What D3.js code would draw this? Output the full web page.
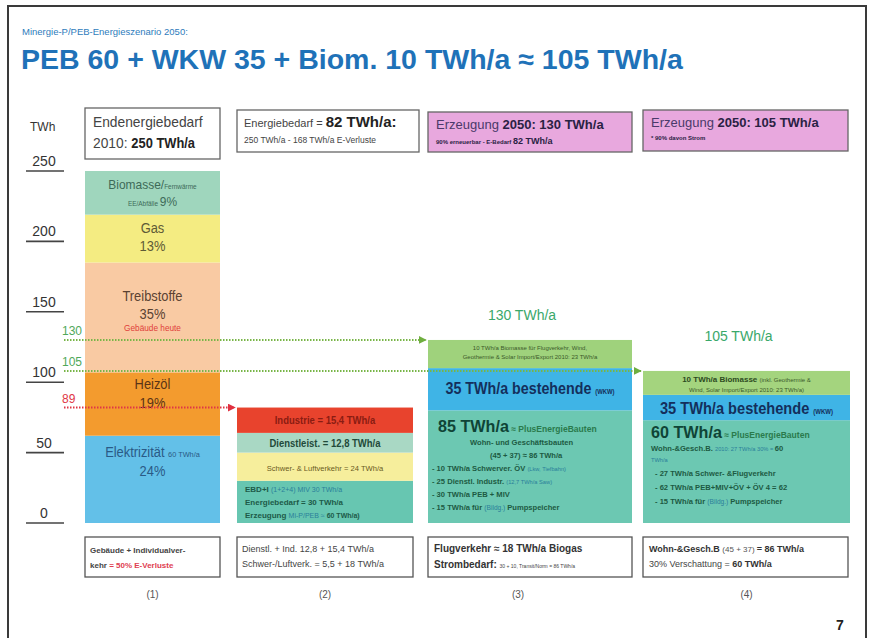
<!DOCTYPE html>
<html>
<head>
<meta charset="utf-8">
<script src="https://cdn.jsdelivr.net/npm/d3@7"></script>
<style>
  body { margin: 0; background: #fff; }
  svg { display: block; font-family: "Liberation Sans Narrow", "Arial Narrow", "Liberation Sans", Arial, sans-serif; }
</style>
</head>
<body>
<script>
// ---- data ----
const columns = ["(1)", "(2)", "(3)", "(4)"];
const yTicks = [0, 50, 100, 150, 200, 250];

// stacks, bottom to top
const col1Names = ["Elektrizität", "Heizöl", "Treibstoffe", "Gas", "Biomasse"];
const col1Values = [62, 45, 78, 34, 31];
const col1Pct = ["24%", "19%", "35%", "13%", "9%"];

const col2Names = ["EBD", "Schwer- & Luftverkehr", "Dienstleist.", "Industrie"];
const col2Values = [30, 20, 14, 18];

const col3Names = ["PlusEnergieBauten", "bestehende WKW", "Biomasse"];
const col3Values = [80, 30, 20];

const col4Names = ["PlusEnergieBauten", "bestehende WKW", "Biomasse"];
const col4Values = [73, 18, 17];

const totalLabels = ["", "", "130 TWh/a", "105 TWh/a"];
const refLabels = ["130", "105", "89"];
const refTargets = [2, 3, 1]; // column index the dotted line points at

// ---- layout ----
const W = 871, H = 638;
const colX = [[85, 220], [237, 413], [428, 632], [643, 850]];
const y = d3.scaleLinear().domain([0, 250]).range([523, 171]);

const col1Colors = ["#63c0e8", "#f39b2e", "#f9caa3", "#f4ec82", "#9fd6bd"];
const col2Colors = ["#67c6b1", "#f6ee9c", "#a9d8c4", "#e8432d"];
const col3Colors = ["#6cc8b2", "#3fb4e6", "#9fd27c"];
const col4Colors = ["#6cc8b2", "#3fb4e6", "#a4d47e"];

const svg = d3.select("body").append("svg")
    .attr("width", W)
    .attr("height", H);

svg.append("rect").attr("x", 0).attr("y", 0).attr("width", W).attr("height", H).attr("fill", "#fff");
// slide frame
svg.append("path")
    .attr("d", "M8,640 V6 H866 V640")
    .attr("fill", "none").attr("stroke", "#3a3a3a").attr("stroke-width", 2);

// titles
svg.append("text").attr("x", 22).attr("y", 35)
    .attr("font-size", 9.5).attr("fill", "#2e7cbc")
    .text("Minergie-P/PEB-Energieszenario 2050:");
svg.append("text").attr("x", 21).attr("y", 69)
    .attr("font-family", "'Liberation Sans', Arial, sans-serif")
    .attr("font-size", 28.5).attr("font-weight", "bold").attr("fill", "#1f72b8")
    .text("PEB 60 + WKW 35 + Biom. 10 TWh/a \u2248 105 TWh/a");

// helper: multi-part text lines, squeezed horizontally by sx around x
function lines(g, x, y0, anchor, rows, sx) {
    sx = sx || 1;
    const t = g.append("g")
        .attr("transform", "translate(" + x + ",0) scale(" + sx + ",1) translate(" + (-x) + ",0)")
        .append("text").attr("text-anchor", anchor);
    rows.forEach(function (row) {
        row.parts.forEach(function (p, i) {
            const s = t.append("tspan")
                .attr("font-size", p.s || 10)
                .attr("font-weight", p.b ? "bold" : "normal")
                .attr("fill", p.c || "#333")
                .text(p.t);
            if (i === 0) s.attr("x", row.x !== undefined ? x + (row.x - x) / sx : x).attr("y", y0 + row.dy);
        });
    });
    return t;
}

// y axis
svg.append("text").attr("x", 30).attr("y", 131).attr("font-size", 12).attr("fill", "#333").text("TWh");
const ax = svg.append("g").attr("class", "axis");
ax.selectAll("line").data(yTicks).enter().append("line")
    .attr("x1", 26).attr("x2", 64)
    .attr("y1", function (d) { return y(d); }).attr("y2", function (d) { return y(d); })
    .attr("stroke", "#444").attr("stroke-width", 1.6);
ax.selectAll("text").data(yTicks).enter().append("text")
    .attr("x", 44).attr("y", function (d) { return y(d) - 5; })
    .attr("text-anchor", "middle").attr("font-size", 14).attr("fill", "#333")
    .text(function (d) { return d; });

// stacked columns
function stack(values) {
    let acc = 0;
    return values.map(function (v) { const s = { y0: acc, y1: acc + v, v: v }; acc += v; return s; });
}
function drawColumn(ci, values, colors) {
    const g = svg.append("g");
    const seg = stack(values);
    g.selectAll("rect").data(seg).enter().append("rect")
        .attr("x", colX[ci][0])
        .attr("width", colX[ci][1] - colX[ci][0])
        .attr("y", function (d) { return y(d.y1); })
        .attr("height", function (d) { return y(d.y0) - y(d.y1); })
        .attr("fill", function (d, i) { return colors[i]; });
    return seg;
}
const s1 = drawColumn(0, col1Values, col1Colors);
const s2 = drawColumn(1, col2Values, col2Colors);
const s3 = drawColumn(2, col3Values, col3Colors);
const s4 = drawColumn(3, col4Values, col4Colors);
const totals = [col1Values, col2Values, col3Values, col4Values].map(function (v) { return d3.sum(v); });
const cx = colX.map(function (c) { return (c[0] + c[1]) / 2; });

// column 1 labels
const c1 = svg.append("g");
lines(c1, cx[0], y(s1[4].y1), "middle", [
    { dy: 18, parts: [{ t: "Biomasse/", s: 13, c: "#3d6a58" }, { t: "Fernwärme", s: 7, c: "#3d6a58" }] },
    { dy: 35, parts: [{ t: "EE/Abfälle ", s: 7, c: "#3d6a58" }, { t: "9%", s: 13, c: "#3d6a58" }] }], 0.92);
lines(c1, cx[0], y(s1[3].y1), "middle", [
    { dy: 18, parts: [{ t: "Gas", s: 14, c: "#5e5a36" }] },
    { dy: 36, parts: [{ t: col1Pct[3], s: 14, c: "#5e5a36" }] }], 0.92);
lines(c1, cx[0], y(s1[2].y1), "middle", [
    { dy: 38, parts: [{ t: "Treibstoffe", s: 14, c: "#5a4232" }] },
    { dy: 56, parts: [{ t: col1Pct[2], s: 14, c: "#5a4232" }] },
    { dy: 68, parts: [{ t: "Gebäude heute", s: 9, c: "#e0403a" }] }], 0.92);
lines(c1, cx[0], y(s1[1].y1), "middle", [
    { dy: 17, parts: [{ t: "Heizöl", s: 14, c: "#5a3416" }] },
    { dy: 36, parts: [{ t: col1Pct[1], s: 14, c: "#5a3416" }] }], 0.92);
lines(c1, cx[0], y(s1[0].y1), "middle", [
    { dy: 21, parts: [{ t: "Elektrizität ", s: 14, c: "#2a5a86" }, { t: " 60 TWh/a", s: 8, c: "#2a5a86" }] },
    { dy: 40, parts: [{ t: col1Pct[0], s: 14, c: "#2a5a86" }] }], 0.92);

// column 2 labels
const c2 = svg.append("g");
lines(c2, cx[1], y(s2[3].y1), "middle", [
    { dy: 16, parts: [{ t: "Industrie = 15,4 TWh/a", s: 10, b: true, c: "#8a1c12" }] }], 0.95);
lines(c2, cx[1], y(s2[2].y1), "middle", [
    { dy: 14, parts: [{ t: "Dienstleist. = 12,8 TWh/a", s: 10, b: true, c: "#1f4a3a" }] }], 0.95);
lines(c2, cx[1], y(s2[1].y1), "middle", [
    { dy: 18, parts: [{ t: "Schwer- & Luftverkehr = 24 TWh/a", s: 8, c: "#6a5a22" }] }], 0.95);
lines(c2, colX[1][0] + 8, y(s2[0].y1), "start", [
    { dy: 11, parts: [{ t: "EBD+I ", s: 8, b: true, c: "#1d5a48" }, { t: "(1+2+4) MIV 30 TWh/a", s: 7, c: "#2b7f9a" }] },
    { dy: 24, parts: [{ t: "Energiebedarf  =  30 TWh/a", s: 8, b: true, c: "#1d5a48" }] },
    { dy: 37, parts: [{ t: "Erzeugung ", s: 8, b: true, c: "#1d5a48" }, { t: "Mi-P/PEB \u2248 ", s: 7, c: "#2b7f9a" }, { t: "60 TWh/a)", s: 7, b: true, c: "#1d5a48" }] }]);

// column 3 labels
const c3 = svg.append("g");
lines(c3, cx[2], y(s3[2].y1), "middle", [
    { dy: 10, parts: [{ t: "10 TWh/a Biomasse für Flugverkehr, Wind,", s: 6, c: "#3b5a2a" }] },
    { dy: 19, parts: [{ t: "Geothermie & Solar Import/Export 2010: 23 TWh/a", s: 6, c: "#3b5a2a" }] }]);
lines(c3, cx[2], y(s3[1].y1), "middle", [
    { dy: 26, parts: [{ t: "35 TWh/a bestehende ", s: 17, b: true, c: "#142f5c" }, { t: "(WKW)", s: 7, b: true, c: "#142f5c" }] }], 0.84);
lines(c3, colX[2][0] + 10, y(s3[0].y1), "start", [
    { dy: 22, parts: [{ t: "85 TWh/a", s: 17, b: true, c: "#0f4436" }, { t: "  \u2248  PlusEnergieBauten", s: 9, b: true, c: "#2a7a4c" }] },
    { dy: 35, x: colX[2][0] + 42, parts: [{ t: "Wohn- und Geschäftsbauten", s: 8, b: true, c: "#1d5a42" }] },
    { dy: 48, x: colX[2][0] + 62, parts: [{ t: "(45 + 37) \u2248 86 TWh/a", s: 8, b: true, c: "#1d5a42" }] },
    { dy: 61, x: colX[2][0] + 4, parts: [{ t: "- 10 TWh/a Schwerver. ÖV ", s: 8, b: true, c: "#1d5a42" }, { t: "(Lkw, Tiefbahn)", s: 6, c: "#2b7f9a" }] },
    { dy: 74, x: colX[2][0] + 4, parts: [{ t: "- 25 Dienstl. Industr. ", s: 8, b: true, c: "#1d5a42" }, { t: "(12,7 TWh/a Saw)", s: 6, c: "#2b7f9a" }] },
    { dy: 87, x: colX[2][0] + 4, parts: [{ t: "- 30 TWh/a PEB + MIV", s: 8, b: true, c: "#1d5a42" }] },
    { dy: 100, x: colX[2][0] + 4, parts: [{ t: "- 15 TWh/a für ", s: 8, b: true, c: "#1d5a42" }, { t: "(Bildg.) ", s: 7, c: "#2b7f9a" }, { t: "Pumpspeicher", s: 8, b: true, c: "#1d5a42" }] }], 0.95);

// column 4 labels
const c4 = svg.append("g");
lines(c4, cx[3], y(s4[2].y1), "middle", [
    { dy: 11, parts: [{ t: "10 TWh/a Biomasse ", s: 8, b: true, c: "#2d4a1e" }, { t: "(inkl. Geothermie &", s: 6, c: "#3b5a2a" }] },
    { dy: 21, parts: [{ t: "Wind, Solar Import/Export 2010: 23 TWh/a)", s: 6, c: "#3b5a2a" }] }]);
lines(c4, cx[3], y(s4[1].y1), "middle", [
    { dy: 19, parts: [{ t: "35 TWh/a bestehende ", s: 17, b: true, c: "#142f5c" }, { t: "(WKW)", s: 7, b: true, c: "#142f5c" }] }], 0.86);
lines(c4, colX[3][0] + 8, y(s4[0].y1), "start", [
    { dy: 18, parts: [{ t: "60 TWh/a", s: 17, b: true, c: "#0f4436" }, { t: "  \u2248  PlusEnergieBauten", s: 9, b: true, c: "#2a7a4c" }] },
    { dy: 31, parts: [{ t: "Wohn-&Gesch.B. ", s: 8, b: true, c: "#1d5a42" }, { t: "2010: 27 TWh/a 30% = ", s: 6, c: "#2b7f9a" }, { t: "60", s: 8, b: true, c: "#1d5a42" }] },
    { dy: 42, parts: [{ t: "TWh/a", s: 6, c: "#2b7f9a" }] },
    { dy: 56, x: colX[3][0] + 12, parts: [{ t: "- 27 TWh/a Schwer- &Flugverkehr", s: 8, b: true, c: "#1d5a42" }] },
    { dy: 70, x: colX[3][0] + 12, parts: [{ t: "- 62 TWh/a PEB+MIV+ÖV + ÖV 4 = 62", s: 8, b: true, c: "#1d5a42" }] },
    { dy: 84, x: colX[3][0] + 12, parts: [{ t: "- 15 TWh/a für ", s: 8, b: true, c: "#1d5a42" }, { t: "(Bildg.) ", s: 7, c: "#2b7f9a" }, { t: "Pumpspeicher", s: 8, b: true, c: "#1d5a42" }] }], 0.95);

// totals above columns 3 and 4
const totalGap = [0, 0, 20, 30];
svg.append("g").selectAll("text").data(totalLabels).enter().append("text")
    .attr("x", function (d, i) { return cx[i] - 8; })
    .attr("y", function (d, i) { return y(totals[i]) - totalGap[i]; })
    .attr("text-anchor", "middle").attr("font-size", 14).attr("fill", "#3aa86a")
    .text(function (d) { return d; });

// dotted reference lines with arrows
const defs = svg.append("defs");
[["arrG", "#6fae3f"], ["arrR", "#e03040"]].forEach(function (a) {
    defs.append("marker").attr("id", a[0]).attr("viewBox", "0 0 10 10")
        .attr("refX", 9).attr("refY", 5).attr("markerWidth", 4).attr("markerHeight", 4).attr("orient", "auto")
        .append("path").attr("d", "M0,0 L10,5 L0,10 z").attr("fill", a[1]);
});
const refColors = ["#79b548", "#79b548", "#e03646"];
const refLabelColors = ["#4fa85a", "#4fa85a", "#e03646"];
const rg = svg.append("g");
rg.selectAll("line").data(refLabels).enter().append("line")
    .attr("x1", 64)
    .attr("x2", function (d, i) { return colX[refTargets[i]][0] - 2; })
    .attr("y1", function (d, i) { return y(totals[refTargets[i]]); })
    .attr("y2", function (d, i) { return y(totals[refTargets[i]]); })
    .attr("stroke", function (d, i) { return refColors[i]; })
    .attr("stroke-width", 2).attr("stroke-dasharray", "1.5,1.5")
    .attr("marker-end", function (d, i) { return i === 2 ? "url(#arrR)" : "url(#arrG)"; });
rg.selectAll("text").data(refLabels).enter().append("text")
    .attr("x", 62)
    .attr("y", function (d, i) { return y(totals[refTargets[i]]) - 5; })
    .attr("font-size", 12).attr("fill", function (d, i) { return refLabelColors[i]; })
    .text(function (d) { return d; });

// header boxes
const hdr = [[108, 159], [110, 152], [112, 152], [110, 151]];
const hdrFill = ["#fff", "#fff", "#e8a8de", "#e8a8de"];
const hg = svg.append("g");
hg.selectAll("rect").data(columns).enter().append("rect")
    .attr("x", function (d, i) { return colX[i][0]; })
    .attr("y", function (d, i) { return hdr[i][0]; })
    .attr("width", function (d, i) { return (i === 3 ? 848 : colX[i][1] + (i === 1 ? 6 : 0)) - colX[i][0]; })
    .attr("height", function (d, i) { return hdr[i][1] - hdr[i][0]; })
    .attr("fill", function (d, i) { return hdrFill[i]; })
    .attr("stroke", "#666").attr("stroke-width", 1.3);
lines(hg, colX[0][0] + 8, 108, "start", [
    { dy: 19, parts: [{ t: "Endenergiebedarf", s: 15, c: "#444" }] },
    { dy: 40, parts: [{ t: "2010: ", s: 15, c: "#444" }, { t: "250 TWh/a", s: 14, b: true, c: "#222" }] }], 0.92);
lines(hg, colX[1][0] + 7, 110, "start", [
    { dy: 17, parts: [{ t: "Energiebedarf = ", s: 11, c: "#444" }, { t: "82 TWh/a:", s: 15, b: true, c: "#222" }] },
    { dy: 33, parts: [{ t: "250 TWh/a - 168 TWh/a E-Verluste", s: 8.5, c: "#444" }] }]);
lines(hg, colX[2][0] + 8, 112, "start", [
    { dy: 17, parts: [{ t: "Erzeugung ", s: 13, c: "#4a3a6a" }, { t: "2050: 130 TWh/a", s: 13, b: true, c: "#2a2244" }] },
    { dy: 32, parts: [{ t: "90% erneuerbar - E-Bedarf  ", s: 6, b: true, c: "#2a2244" }, { t: "82 TWh/a", s: 9, b: true, c: "#2a2244" }] }]);
lines(hg, colX[3][0] + 8, 110, "start", [
    { dy: 17, parts: [{ t: "Erzeugung ", s: 13, c: "#4a3a6a" }, { t: "2050: 105 TWh/a", s: 13, b: true, c: "#2a2244" }] },
    { dy: 30, parts: [{ t: "*  90% davon Strom", s: 6, b: true, c: "#2a2244" }] }]);

// bottom boxes
const fg = svg.append("g");
fg.selectAll("rect").data(columns).enter().append("rect")
    .attr("x", function (d, i) { return colX[i][0]; })
    .attr("y", 537)
    .attr("width", function (d, i) { return (i === 3 ? 848 : colX[i][1]) - colX[i][0]; })
    .attr("height", 40)
    .attr("fill", "#fff").attr("stroke", "#555").attr("stroke-width", 1.3);
lines(fg, colX[0][0] + 5, 537, "start", [
    { dy: 16, parts: [{ t: "Gebäude + Individualver-", s: 8, b: true, c: "#444" }] },
    { dy: 31, parts: [{ t: "kehr ", s: 8, b: true, c: "#444" }, { t: "= 50% E-Verluste", s: 8, b: true, c: "#e04050" }] }]);
lines(fg, colX[1][0] + 5, 537, "start", [
    { dy: 15, parts: [{ t: "Dienstl. + Ind. 12,8 + 15,4 TWh/a", s: 9, c: "#444" }] },
    { dy: 30, parts: [{ t: "Schwer-/Luftverk.  = 5,5 + 18 TWh/a", s: 9, c: "#444" }] }]);
lines(fg, colX[2][0] + 6, 537, "start", [
    { dy: 15, parts: [{ t: "Flugverkehr \u2248 18 TWh/a Biogas", s: 10, b: true, c: "#333" }] },
    { dy: 31, parts: [{ t: "Strombedarf: ", s: 10, b: true, c: "#333" }, { t: "30 + 10, Transit/Norm = 86 TWh/a", s: 5, c: "#444" }] }]);
lines(fg, colX[3][0] + 6, 537, "start", [
    { dy: 15, parts: [{ t: "Wohn-&Gesch.B ", s: 9, b: true, c: "#333" }, { t: "(45 + 37) ", s: 8, c: "#555" }, { t: "= 86 TWh/a", s: 9, b: true, c: "#333" }] },
    { dy: 30, parts: [{ t: "30% Verschattung  = ", s: 9, c: "#444" }, { t: "60 TWh/a", s: 9, b: true, c: "#333" }] }]);

// column captions
svg.append("g").selectAll("text").data(columns).enter().append("text")
    .attr("x", function (d, i) { return i === 2 ? cx[i] - 12 : cx[i]; })
    .attr("y", 598).attr("text-anchor", "middle").attr("font-size", 10).attr("fill", "#555")
    .text(function (d) { return d; });

// page number
svg.append("text").attr("x", 840).attr("y", 630).attr("text-anchor", "middle")
    .attr("font-family", "'Liberation Sans', Arial, sans-serif")
    .attr("font-size", 14).attr("font-weight", "bold").attr("fill", "#222").text("7");
</script>
</body>
</html>
